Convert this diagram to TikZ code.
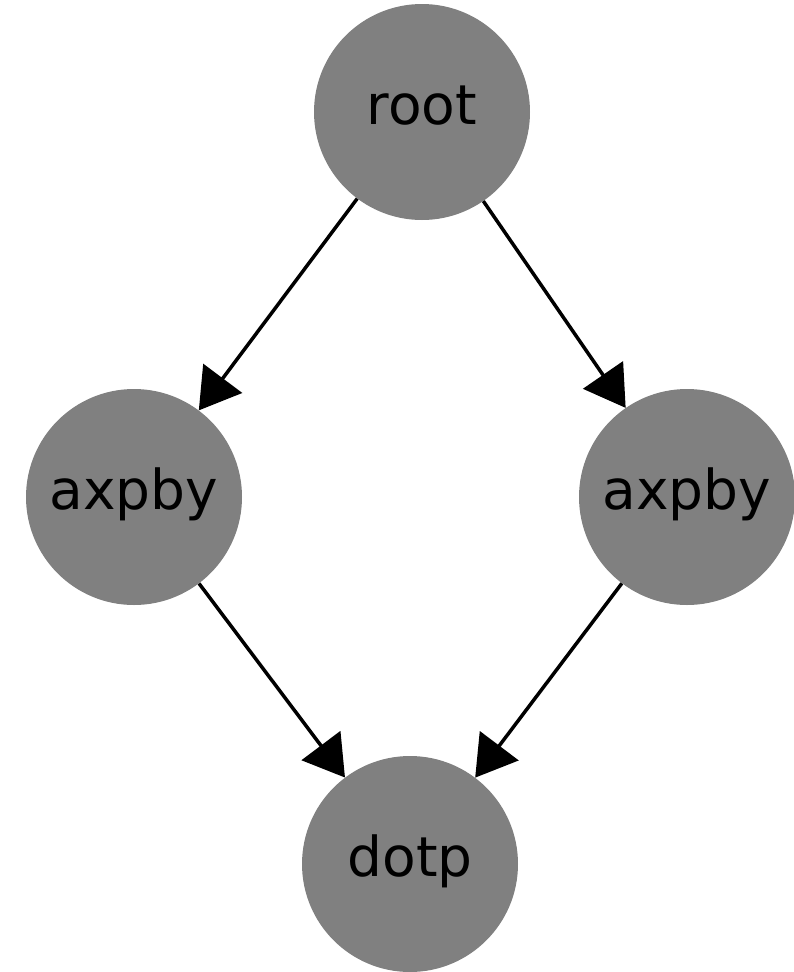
\documentclass[tikz,border=0pt]{standalone}
\usepackage{fontspec}
\setmainfont{DejaVu Sans}
\usetikzlibrary{arrows.meta}
\begin{document}
\begin{tikzpicture}[x=1pt,y=-1pt,
  vnode/.style={circle,fill=gray,draw=none,minimum size=216pt,inner sep=0pt,
    text height=36pt,text depth=12pt,
    font=\fontsize{55}{60}\selectfont},
  edge/.style={line width=3.5pt,-{Triangle[length=40pt,width=48pt]}}]
\useasboundingbox (0,0) rectangle (793,972);
\node[vnode] (root) at (422,112) {root};
\node[vnode] (l) at (134,497) {axpby};
\node[vnode] (r) at (687,497) {axpby};
\node[vnode] (d) at (410,864) {dotp};
\draw[edge] (root) -- (l);
\draw[edge] (root) -- (r);
\draw[edge] (l) -- (d);
\draw[edge] (r) -- (d);
\end{tikzpicture}
\end{document}
